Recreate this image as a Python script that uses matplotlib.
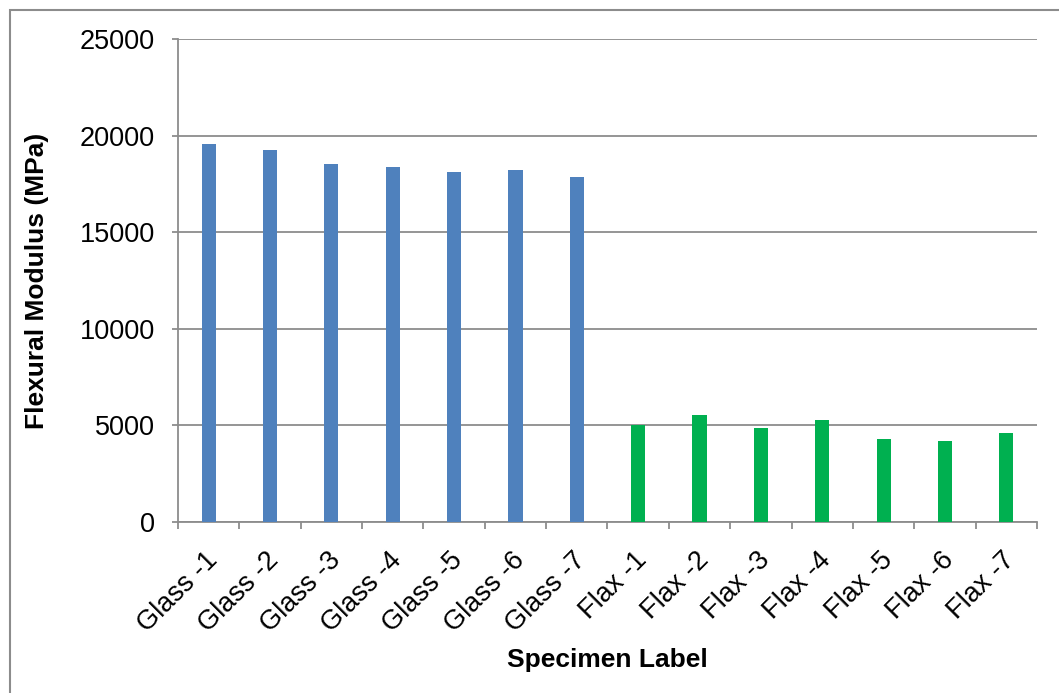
import numpy as np
import matplotlib
matplotlib.use("Agg")
import matplotlib.pyplot as plt
import matplotlib.transforms as mtransforms
from matplotlib.patches import Rectangle

# specimen labels and flexural modulus values (MPa)
glass_labels = ['Glass -1', 'Glass -2', 'Glass -3', 'Glass -4', 'Glass -5', 'Glass -6', 'Glass -7']
flax_labels = ['Flax -1', 'Flax -2', 'Flax -3', 'Flax -4', 'Flax -5', 'Flax -6', 'Flax -7']
glass_modulus = [19560, 19240, 18530, 18360, 18130, 18200, 17860]
flax_modulus = [5040, 5550, 4870, 5300, 4310, 4210, 4620]

plt.rcParams['font.family'] = ['Liberation Sans', 'DejaVu Sans']

fig = plt.figure(figsize=(10.59, 6.93), dpi=100)
ax = fig.add_axes([0.1681, 0.2468, 0.9792 - 0.1681, 0.9437 - 0.2468])

labels = glass_labels + flax_labels
x = np.arange(len(labels))
colors = ['#4F81BD'] * len(glass_labels) + ['#00B050'] * len(flax_labels)
ax.bar(x, glass_modulus + flax_modulus, width=0.23, color=colors, zorder=3)

grey = '#8C8C8C'
ax.set_xlim(-0.5, len(labels) - 0.5)
ax.set_ylim(0, 25000)
ax.set_yticks(np.arange(0, 25001, 5000))
ax.yaxis.grid(True, color=grey, linewidth=1.3, zorder=0)

ax.set_xticks(x)
ax.set_xticklabels(labels, rotation=45, ha='right', rotation_mode='anchor')
ax.set_xticks(np.arange(-0.5, len(labels), 1.0), minor=True)
ax.tick_params(axis='x', which='major', length=0, pad=18, labelsize=19.5)
ax.tick_params(axis='x', which='minor', length=5, width=1.3, color=grey)
ax.tick_params(axis='y', length=4.5, width=1.3, color=grey, labelsize=19.5, pad=12)

# nudge the rotated labels a little left
shift = mtransforms.ScaledTranslation(-3 / 72, 0, fig.dpi_scale_trans)
for lab in ax.get_xticklabels():
    lab.set_transform(lab.get_transform() + shift)

for s in ['top', 'right']:
    ax.spines[s].set_visible(False)
for s in ['left', 'bottom']:
    ax.spines[s].set_color(grey)
    ax.spines[s].set_linewidth(1.3)

ax.set_ylabel('Flexural Modulus (MPa)', fontsize=19, fontweight='bold', labelpad=22)
ax.set_xlabel('Specimen Label', fontsize=19, fontweight='bold', labelpad=8)

# chart area border
fig.patches.append(Rectangle((10 / 1059, -0.1), 1.2, 1.1 - 10 / 693, transform=fig.transFigure,
                             fill=False, edgecolor='#8C8C8C', linewidth=1.5))

fig.savefig('out.png', dpi=100)
